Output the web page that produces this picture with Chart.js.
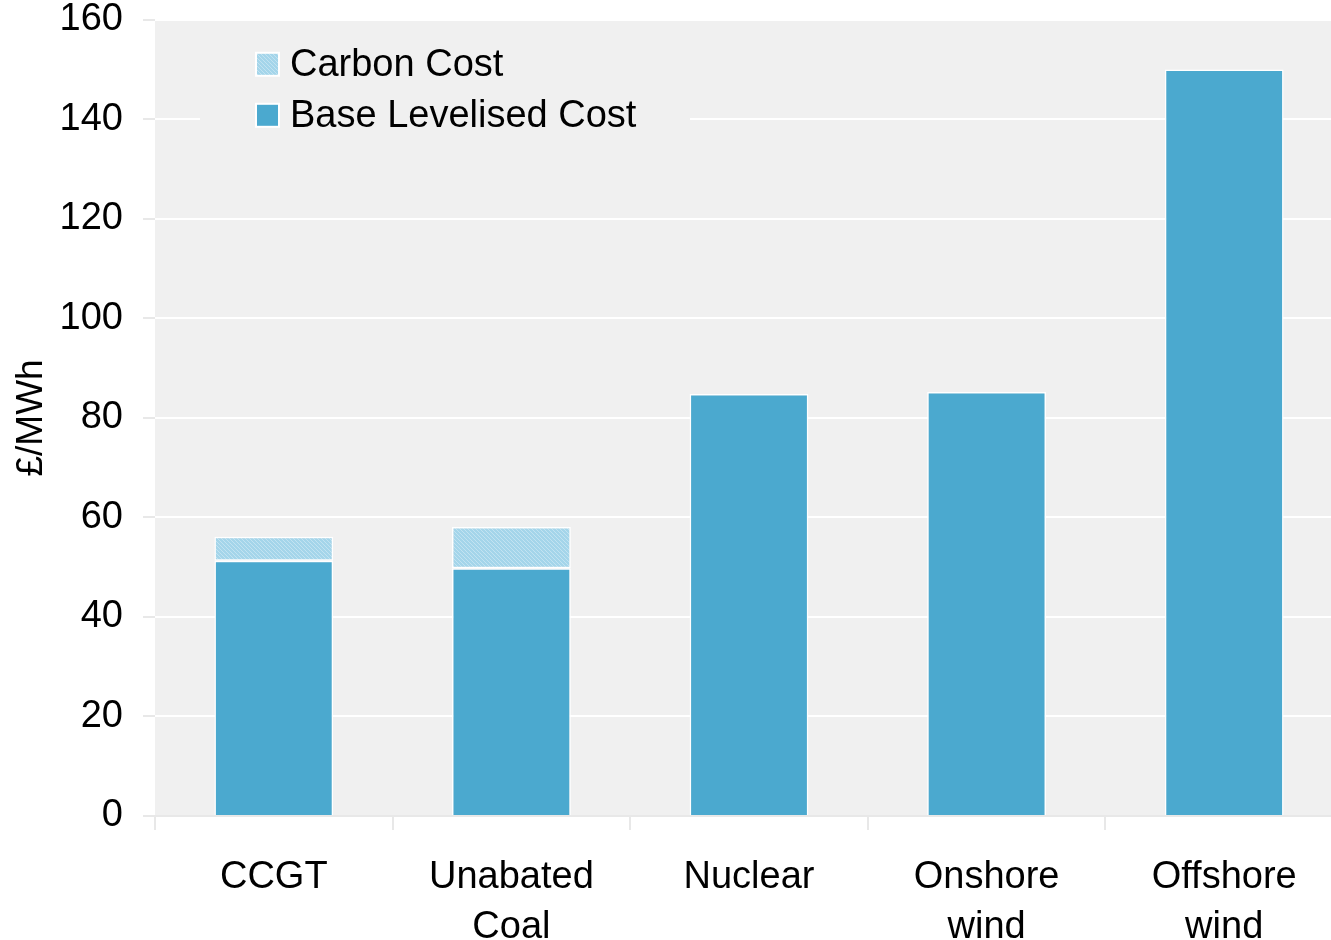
<!DOCTYPE html>
<html>
<head>
<meta charset="utf-8">
<script src="https://cdn.jsdelivr.net/npm/chart.js@4.4.1/dist/chart.umd.min.js"></script>
<style>
  html, body { margin: 0; padding: 0; background: #fff; overflow: hidden; }
  #wrap { width: 1331px; height: 940px; overflow: hidden; }
  #chart { display: block; margin-top: -23px; }
</style>
</head>
<body>
<div id="wrap"><canvas id="chart" width="1343" height="963"></canvas></div>
<script>
const categories = [['CCGT'], ['Unabated', 'Coal'], ['Nuclear'], ['Onshore', 'wind'], ['Offshore', 'wind']];
const baseCost = [51.3, 49.8, 84.8, 85.2, 150.0];
const carbonCost = [4.8, 8.3, 0, 0, 0];
const yTicks = [0, 20, 40, 60, 80, 100, 120, 140, 160];

const baseColor = '#4ba9cf';
const fontFamily = '"Liberation Sans", Arial, sans-serif';

// light hatch for the carbon part
function makeHatch() {
  const c = document.createElement('canvas');
  c.width = 4; c.height = 4;
  const g = c.getContext('2d');
  g.fillStyle = '#a4d5ea';
  g.fillRect(0, 0, 4, 4);
  g.fillStyle = '#c2e3f1';
  g.fillRect(0, 0, 1, 1);
  g.fillRect(1, 1, 1, 1);
  g.fillRect(2, 2, 1, 1);
  g.fillRect(3, 3, 1, 1);
  return g.createPattern(c, 'repeat');
}
const hatch = makeHatch();

const plotBg = {
  id: 'plotBg',
  beforeDraw(chart) {
    const { ctx, chartArea: a } = chart;
    ctx.save();
    ctx.fillStyle = '#f0f0f0';
    ctx.fillRect(a.left, a.top, a.right - a.left, a.bottom - a.top);
    ctx.restore();
  }
};

const insideLegend = {
  id: 'insideLegend',
  afterDatasetsDraw(chart) {
    const { ctx, chartArea: a } = chart;
    const x0 = a.left + 45, y0 = a.top + 20;
    ctx.save();
    ctx.fillStyle = '#f0f0f0';
    ctx.fillRect(x0, y0, 490, 104);
    const items = [
      { text: 'Carbon Cost', fill: hatch },
      { text: 'Base Levelised Cost', fill: baseColor }
    ];
    items.forEach((it, i) => {
      const cy = y0 + 25 + i * 51;
      ctx.fillStyle = '#ffffff';
      ctx.fillRect(x0 + 55, cy - 13, 25, 25);
      ctx.fillStyle = it.fill;
      ctx.fillRect(x0 + 57, cy - 11, 21, 21);
      ctx.fillStyle = '#000';
      ctx.font = '38px ' + fontFamily;
      ctx.textBaseline = 'middle';
      ctx.fillText(it.text, x0 + 90, cy + 1);
    });
    ctx.restore();
  }
};

new Chart(document.getElementById('chart'), {
  type: 'bar',
  data: {
    labels: categories,
    datasets: [
      {
        label: 'Base Levelised Cost',
        data: baseCost,
        backgroundColor: baseColor,
        borderColor: '#ffffff',
        borderWidth: 1.5,
        borderSkipped: 'bottom',
        barPercentage: 1,
        categoryPercentage: 0.5
      },
      {
        label: 'Carbon Cost',
        data: carbonCost,
        backgroundColor: hatch,
        borderColor: '#ffffff',
        borderWidth: 1.5,
        borderSkipped: false,
        barPercentage: 1,
        categoryPercentage: 0.5
      }
    ]
  },
  options: {
    responsive: false,
    animation: false,
    layout: { padding: { top: 0, right: 0, left: 0, bottom: 0 } },
    plugins: {
      legend: { display: false },
      tooltip: { enabled: false }
    },
    scales: {
      x: {
        stacked: true,
        offset: true,
        afterFit: (s) => { s.height = 124; },
        grid: { offset: true, drawOnChartArea: false, drawTicks: true, tickLength: 14, tickColor: '#e8e8e8', lineWidth: 2 },
        border: { display: true, color: '#e8e8e8', width: 2 },
        ticks: { color: '#000', font: { family: fontFamily, size: 38, lineHeight: 1.32 }, padding: 22, maxRotation: 0, autoSkip: false }
      },
      y: {
        stacked: true,
        min: 0,
        max: 160,
        afterFit: (s) => { s.width = 155; },
        afterBuildTicks: (s) => { s.ticks = yTicks.map((v) => ({ value: v })); },
        grid: { color: '#ffffff', lineWidth: 2, drawTicks: true, tickLength: 12, tickColor: '#e8e8e8' },
        border: { display: false },
        ticks: { color: '#000', font: { family: fontFamily, size: 38 }, padding: 20 },
        title: { display: true, text: '£/MWh', color: '#000', font: { family: fontFamily, size: 37 }, padding: { top: 10, bottom: 0 } }
      }
    }
  },
  plugins: [plotBg, insideLegend]
});
</script>
</body>
</html>
